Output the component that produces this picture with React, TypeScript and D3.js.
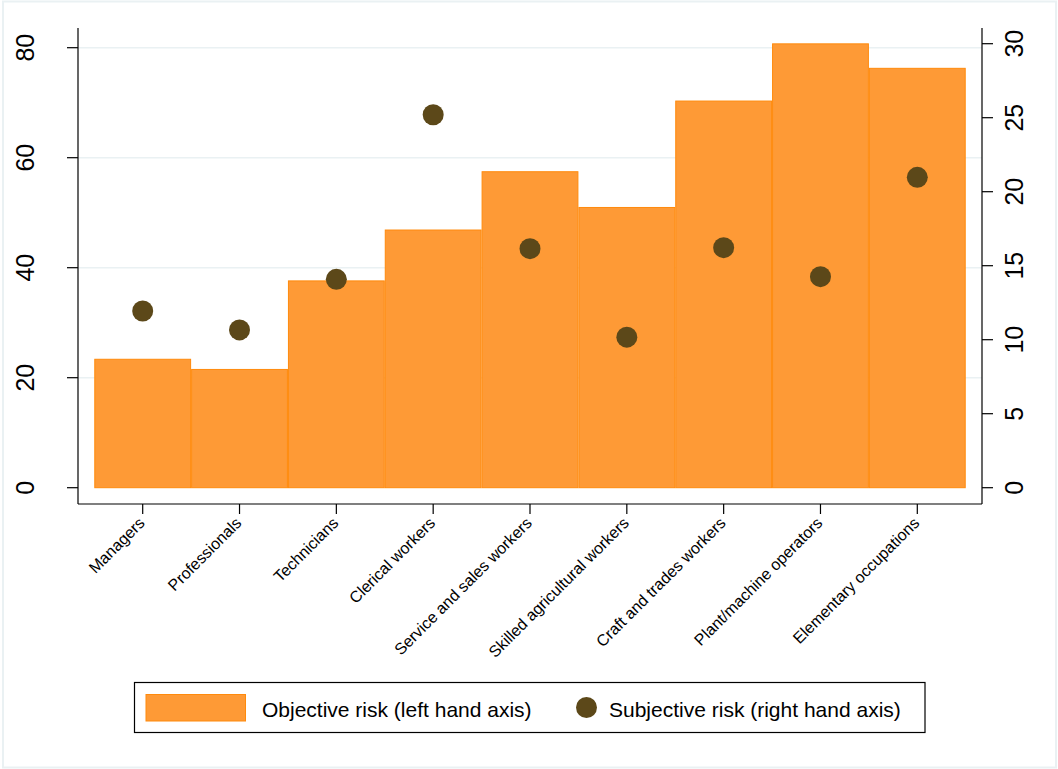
import React from "react";
import * as d3 from "d3";

const categories = [
  "Managers",
  "Professionals",
  "Technicians",
  "Clerical workers",
  "Service and sales workers",
  "Skilled agricultural workers",
  "Craft and trades workers",
  "Plant/machine operators",
  "Elementary occupations",
];
const objectiveRisk = [23.35, 21.5, 37.6, 46.85, 57.45, 50.95, 70.3, 80.7, 76.25];
const subjectiveRisk = [11.94, 10.66, 14.08, 25.2, 16.15, 10.17, 16.22, 14.26, 20.97];
const leftTicks = [0, 20, 40, 60, 80];
const rightTicks = [0, 5, 10, 15, 20, 25, 30];
const legendLabels = ["Objective risk (left hand axis)", "Subjective risk (right hand axis)"];

const W = 1058;
const H = 769;
const FONT = "'Liberation Sans', Arial, Helvetica, sans-serif";
const BAR_FILL = "#fe9a36";
const BAR_STROKE = "#ff8a0c";
const DOT = "#5c4819";
const GRID = "#eaf1f3";

export default function App() {
  const plotLeft = 78;
  const plotRight = 982;
  const plotTop = 28;
  const plotBottom = 504;

  const x = d3.scalePoint<string>().domain(categories).range([142.7, 917.3]);
  const step = x.step();
  const yL = d3.scaleLinear().domain([0, 80]).range([487.7, 47.7]);
  const yR = d3.scaleLinear().domain([0, 30]).range([487.7, 43.7]);

  return (
    <div style={{ position: "absolute", left: 0, top: 0 }}>
      <svg width={W} height={H} style={{ display: "block", fontFamily: FONT }}>
        <rect x={0} y={0} width={W} height={H} fill="#ffffff" />
        <rect x={3} y={1.5} width={1053} height={766} fill="none" stroke={GRID} strokeWidth={2} />

        {/* gridlines */}
        {leftTicks.filter((t) => t > 0).map((t) => (
          <line key={"g" + t} x1={plotLeft} x2={plotRight} y1={yL(t)} y2={yL(t)} stroke={GRID} strokeWidth={1.6} />
        ))}

        {/* bars */}
        {categories.map((c, i) => (
          <rect
            key={"b" + c}
            x={(x(c) as number) - step / 2 + 0.5}
            y={yL(objectiveRisk[i])}
            width={step - 1}
            height={yL(0) - yL(objectiveRisk[i])}
            fill={BAR_FILL}
            stroke={BAR_STROKE}
            strokeWidth={1}
          />
        ))}

        {/* dots */}
        {categories.map((c, i) => (
          <circle key={"d" + c} cx={x(c) as number} cy={yR(subjectiveRisk[i])} r={10.5} fill={DOT} />
        ))}

        {/* axes */}
        <line x1={plotLeft} x2={plotLeft} y1={plotTop} y2={plotBottom} stroke="#000" strokeWidth={1.2} />
        <line x1={plotRight} x2={plotRight} y1={plotTop} y2={plotBottom} stroke="#000" strokeWidth={1.2} />
        <line x1={plotLeft} x2={plotRight} y1={plotBottom} y2={plotBottom} stroke="#000" strokeWidth={1.2} />

        {leftTicks.map((t) => (
          <g key={"lt" + t}>
            <line x1={plotLeft - 11} x2={plotLeft} y1={yL(t)} y2={yL(t)} stroke="#000" strokeWidth={1.2} />
            <text
              transform={`translate(33.5,${yL(t)}) rotate(-90)`}
              textAnchor="middle"
              fontSize={25}
              fill="#000"
            >
              {t}
            </text>
          </g>
        ))}

        {rightTicks.map((t) => (
          <g key={"rt" + t}>
            <line x1={plotRight} x2={plotRight + 11} y1={yR(t)} y2={yR(t)} stroke="#000" strokeWidth={1.2} />
            <text
              transform={`translate(1023,${yR(t)}) rotate(-90)`}
              textAnchor="middle"
              fontSize={25}
              fill="#000"
            >
              {t}
            </text>
          </g>
        ))}

        {categories.map((c) => (
          <g key={"xt" + c}>
            <line x1={x(c) as number} x2={x(c) as number} y1={plotBottom} y2={plotBottom + 10} stroke="#000" strokeWidth={1.2} />
            <text
              transform={`translate(${(x(c) as number) + 3},${plotBottom + 20}) rotate(-45)`}
              textAnchor="end"
              fontSize={16}
              fill="#000"
            >
              {c}
            </text>
          </g>
        ))}

        {/* legend */}
        <rect x={134.5} y={682.5} width={790.5} height={50} fill="#fff" stroke="#000" strokeWidth={1.2} />
        <rect x={146} y={694.5} width={99.5} height={26.5} fill={BAR_FILL} stroke={BAR_STROKE} strokeWidth={1} />
        <text x={262} y={717} fontSize={21} fill="#000">
          {legendLabels[0]}
        </text>
        <circle cx={586.5} cy={707.5} r={10.5} fill={DOT} />
        <text x={609} y={717} fontSize={21} fill="#000">
          {legendLabels[1]}
        </text>
      </svg>
    </div>
  );
}
